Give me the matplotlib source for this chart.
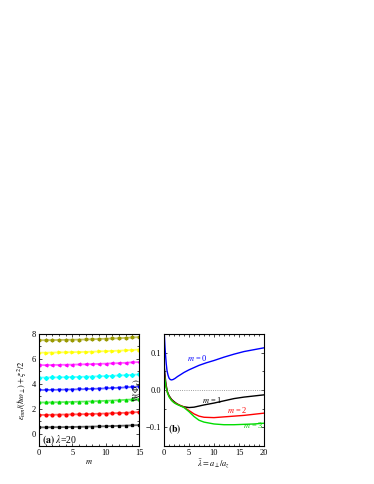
import matplotlib
matplotlib.use("Agg")
import matplotlib.pyplot as plt
from matplotlib.ticker import MultipleLocator

plt.rcParams['font.family'] = ['Liberation Serif', 'DejaVu Serif']
plt.rcParams['mathtext.fontset'] = 'stix'

# ---- panel (a) data ----
m_vals = list(range(16))
e_black   = [0.50, 0.50, 0.51, 0.51, 0.52, 0.53, 0.54, 0.55, 0.56, 0.57, 0.59, 0.60, 0.62, 0.64, 0.66, 0.68]
e_red     = [1.50, 1.50, 1.51, 1.52, 1.53, 1.54, 1.55, 1.56, 1.58, 1.59, 1.61, 1.63, 1.65, 1.67, 1.70, 1.73]
e_green   = [2.50, 2.50, 2.51, 2.52, 2.53, 2.54, 2.56, 2.57, 2.59, 2.61, 2.63, 2.65, 2.68, 2.71, 2.74, 2.78]
e_blue    = [3.50, 3.50, 3.51, 3.52, 3.53, 3.54, 3.56, 3.57, 3.59, 3.61, 3.63, 3.66, 3.68, 3.71, 3.74, 3.78]
e_cyan    = [4.50, 4.50, 4.51, 4.52, 4.53, 4.54, 4.55, 4.57, 4.58, 4.60, 4.62, 4.64, 4.67, 4.69, 4.72, 4.75]
e_magenta = [5.50, 5.50, 5.51, 5.52, 5.53, 5.54, 5.55, 5.57, 5.58, 5.60, 5.62, 5.64, 5.66, 5.69, 5.72, 5.75]
e_yellow  = [6.50, 6.50, 6.51, 6.52, 6.53, 6.54, 6.55, 6.56, 6.58, 6.60, 6.62, 6.64, 6.66, 6.69, 6.72, 6.75]
e_olive   = [7.50, 7.50, 7.51, 7.52, 7.53, 7.54, 7.55, 7.56, 7.58, 7.60, 7.62, 7.64, 7.66, 7.69, 7.72, 7.75]
series_a = [e_black, e_red, e_green, e_blue, e_cyan, e_magenta, e_yellow, e_olive]
colors_a = ['black', 'red', '#00dd00', 'blue', 'cyan', 'magenta', 'yellow', '#999900']
markers_a = ['s', 'o', '^', 'v', 'D', '<', '>', 'h']

# ---- panel (b) data ----
lam0 = [0.02, 0.1, 0.2, 0.3, 0.45, 0.6, 0.8, 1.0, 1.25, 1.5, 1.8, 2.2, 2.7, 3.3, 4, 5, 6, 7, 8.5, 10, 12, 14, 16, 18, 20]
w0   = [0.16, 0.14, 0.115, 0.095, 0.07, 0.052, 0.04, 0.032, 0.028, 0.027, 0.028, 0.031, 0.036, 0.041, 0.047, 0.054, 0.060, 0.066, 0.073, 0.079, 0.088, 0.096, 0.103, 0.108, 0.113]
lam  = [0.02, 0.2, 0.4, 0.7, 1.0, 1.5, 2.0, 2.5, 3.0, 3.5, 4, 5, 6, 7, 8, 10, 12, 14, 16, 18, 20]
w1   = [0.07, 0.04, 0.015, -0.005, -0.015, -0.025, -0.031, -0.036, -0.040, -0.043, -0.045, -0.047, -0.046, -0.043, -0.040, -0.035, -0.029, -0.023, -0.019, -0.016, -0.013]
w2   = [0.05, 0.03, 0.010, -0.007, -0.017, -0.027, -0.033, -0.037, -0.040, -0.043, -0.046, -0.055, -0.064, -0.070, -0.073, -0.074, -0.072, -0.070, -0.068, -0.065, -0.062]
w3   = [0.045, 0.027, 0.008, -0.008, -0.018, -0.028, -0.034, -0.038, -0.041, -0.044, -0.047, -0.058, -0.071, -0.081, -0.086, -0.091, -0.093, -0.093, -0.092, -0.091, -0.089]

fig = plt.figure(figsize=(3.74, 4.84), dpi=100)
axa = fig.add_axes([39/374, 1-446/484, 100/374, 112/484])
axb = fig.add_axes([164/374, 1-446/484, 100/374, 112/484])

for ax in (axa, axb):
    ax.tick_params(which='both', direction='in', top=True, right=True, labelsize=6, width=0.5, pad=2)
    ax.tick_params(which='major', length=2.5)
    ax.tick_params(which='minor', length=1.5)
    for s in ax.spines.values():
        s.set_linewidth(0.8)

for vals, c, mk in zip(series_a, colors_a, markers_a):
    axa.plot(m_vals, vals, color=c, lw=1.3, alpha=0.6)
    axa.plot(m_vals, vals, color=c, lw=0, marker=mk, ms=2.0)
axa.set_xlim(0, 15)
axa.set_ylim(-1, 8)
axa.xaxis.set_major_locator(MultipleLocator(5))
axa.xaxis.set_minor_locator(MultipleLocator(1))
axa.yaxis.set_major_locator(MultipleLocator(2))
axa.yaxis.set_minor_locator(MultipleLocator(1))
axa.set_xlabel(r'$m$', fontsize=6, labelpad=1)
axa.set_ylabel(r'$\epsilon_{nm}/(\hbar\omega_\perp)+\xi^2/2$', fontsize=6, labelpad=2)
axa.text(0.4, -0.5, r'$\mathbf{(a)}$ $\lambda$=20', fontsize=7, va='center')

axb.axhline(0, color='gray', lw=0.6, ls=':')
axb.plot(lam0, w0, color='blue', lw=1.0)
axb.plot(lam, w1, color='black', lw=1.0)
axb.plot(lam, w2, color='red', lw=1.0)
axb.plot(lam, w3, color='#00dd00', lw=1.0)
axb.set_xlim(0, 20)
axb.set_ylim(-0.15, 0.15)
axb.xaxis.set_major_locator(MultipleLocator(5))
axb.xaxis.set_minor_locator(MultipleLocator(1))
axb.yaxis.set_major_locator(MultipleLocator(0.1))
axb.yaxis.set_minor_locator(MultipleLocator(0.05))
axb.set_xlabel(r'$\bar{\lambda}=a_\perp/a_z$', fontsize=6, labelpad=1)
axb.set_ylabel(r'$W(\Phi_c)$', fontsize=6, labelpad=2)
axb.text(4.6, 0.078, r'$m$ = 0', color='blue', fontsize=6)
axb.text(7.6, -0.036, r'$m$ = 1', color='black', fontsize=6)
axb.text(12.6, -0.062, r'$m$ = 2', color='red', fontsize=6)
axb.text(15.8, -0.102, r'$m$ = 3', color='#00cc00', fontsize=6)
axb.text(0.8, -0.105, r'$\mathbf{(b)}$', fontsize=7, va='center')

fig.savefig('out.png', dpi=100)
